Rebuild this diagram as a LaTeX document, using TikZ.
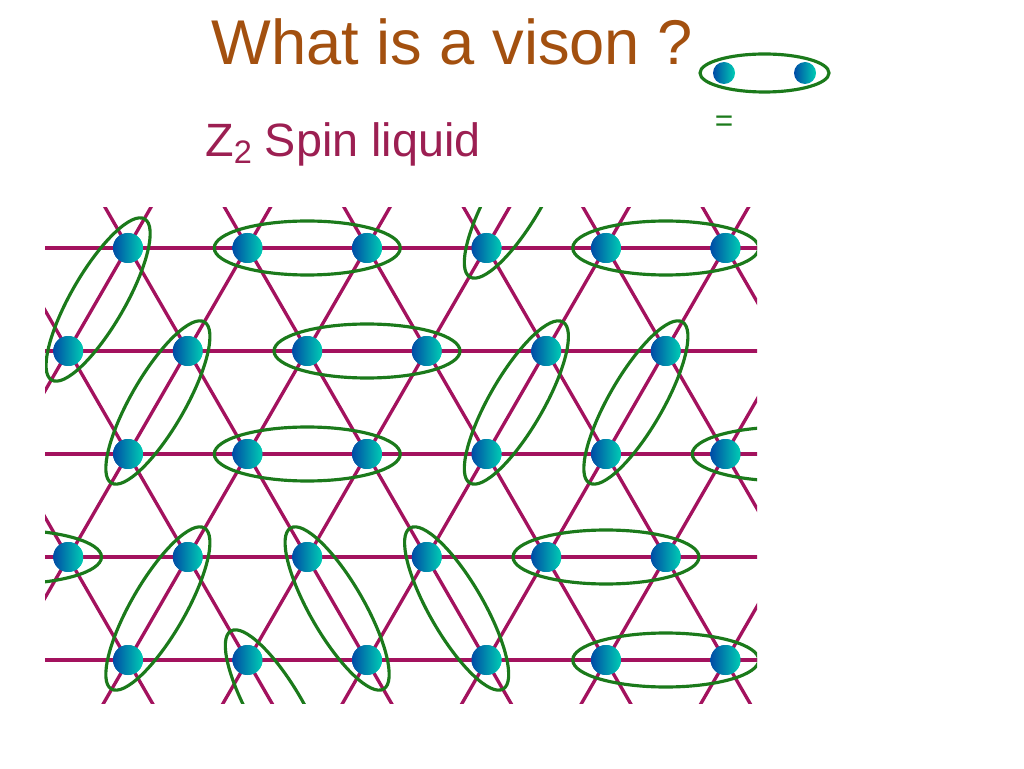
\documentclass[tikz,border=0pt]{standalone}
\usepackage{fontspec}
\setmainfont{Liberation Sans}
\usetikzlibrary{calc}
\definecolor{lattice}{HTML}{A3125E}
\definecolor{valence}{HTML}{1B7A1B}
\definecolor{siteblue}{HTML}{004CA6}
\definecolor{siteteal}{HTML}{00CDB4}
\definecolor{titlebrown}{HTML}{A3500F}
\definecolor{liquidred}{HTML}{9C1F52}

\begin{document}
\begin{tikzpicture}[
    x=0.02cm,
    y=0.02cm,
    bond/.style={
        draw=lattice,
        line width=1.9pt
    },
    dimer/.style={
        draw=valence,
        line width=1.8pt
    },
    site/.style={
        circle,
        inner sep=0pt,
        minimum size=0.6cm,
        left color=siteblue,
        right color=siteteal
    }
]

\useasboundingbox (0,0) rectangle (1024,768);

\node[
    anchor=base west,
    inner sep=0pt,
    text=titlebrown,
    font=\fontsize{36}{40}\selectfont
] (title) at (211,703)
{What is a vison ?};

\node[
    anchor=base west,
    inner sep=0pt,
    text=liquidred,
    font=\fontsize{26.6}{30}\selectfont
] (liquid) at (205,611)
{Z\raisebox{-0.28ex}{\fontsize{18.5}{20}\selectfont 2} Spin liquid};

\node[site,minimum size=0.44cm] (spinA) at (724,695) {};
\node[site,minimum size=0.44cm] (spinB) at (805,695) {};
\draw[dimer] ($(spinA)!0.5!(spinB)$) ellipse [x radius=64.5, y radius=19];

\node[
    inner sep=0pt,
    text=valence,
    font=\fontsize{18}{18}\selectfont
] (equals) at (724,644)
{=};

\begin{scope}
\clip (45,65) rectangle (757,560);

\foreach \c in {-2,...,9} {
    \draw[bond] ({128+119.5*(\c-1)},314) ++(60:320) -- ++(240:640);
    \draw[bond] ({128+119.5*(\c-1)},314) ++(120:320) -- ++(300:640);
}

\foreach \r in {0,...,6} {
    \pgfmathsetmacro{\rowy}{520-103*(\r-1)}
    \pgfmathsetmacro{\rowx}{mod(\r,2)==1 ? 128 : 68.25}
    \foreach \c in {0,...,7}
        \node[site] (s\r\c) at ({\rowx+119.5*(\c-1)},\rowy) {};
}

\foreach \r in {1,...,5}
    \draw[bond] (s\r0) -- (s\r7);

\foreach \a/\b/\ang in {
    s11/s21/60, s12/s13/0, s14/s05/60, s15/s16/0,
    s22/s31/60, s23/s24/0, s25/s34/60, s26/s35/60,
    s32/s33/0, s36/s37/0,
    s41/s40/0, s42/s51/60, s43/s53/120, s44/s54/120, s45/s46/0,
    s52/s63/120, s55/s56/0
} {
    \coordinate (pair) at ($(\a)!0.5!(\b)$);
    \draw[dimer, rotate around={\ang:(pair)}] (pair) ellipse [x radius=93, y radius=27];
}

\foreach \r in {1,...,5}
    \foreach \c in {1,...,6}
        \node[site] at (s\r\c) {};

\end{scope}

\end{tikzpicture}
\end{document}
